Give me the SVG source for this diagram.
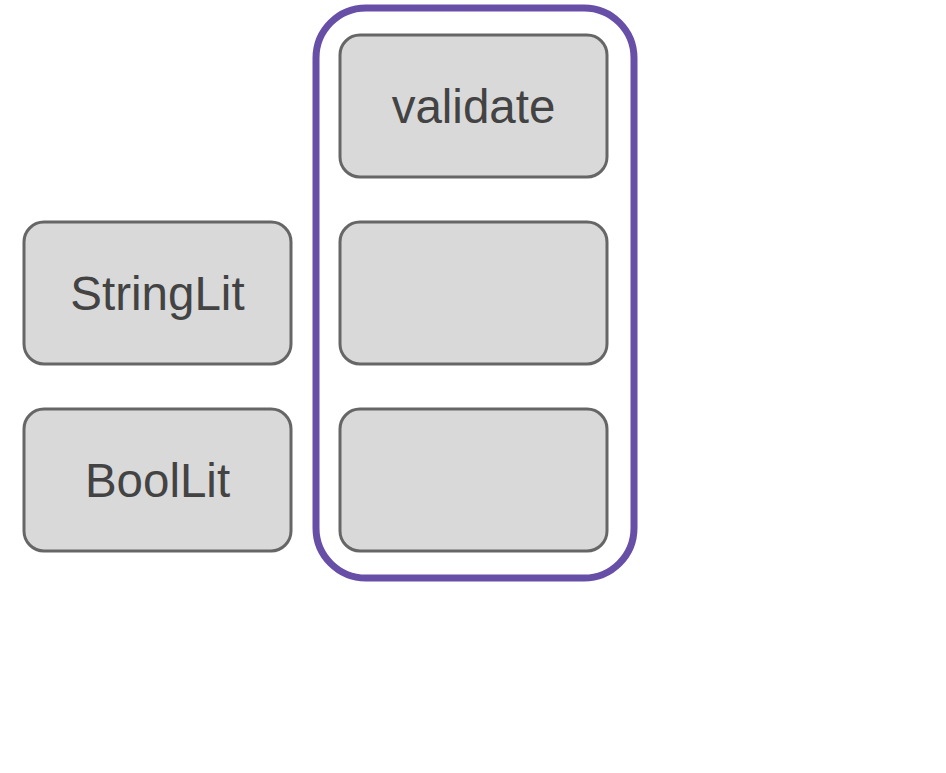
<svg xmlns="http://www.w3.org/2000/svg" width="946" height="773" viewBox="0 0 946 773">
<style>
.box{fill:#d9d9d9;stroke:#666666;stroke-width:3}
.grp{fill:none;stroke:#674ea7;stroke-width:7}
.lbl{font-family:"Liberation Sans",Arial,sans-serif;font-size:47.5px;fill:#434343;text-anchor:middle}
</style>
<rect width="946" height="773" fill="#ffffff"/>
<g id="group">
<rect class="grp" x="316" y="8" width="318" height="570" rx="50" ry="50"/>
</g>
<g id="validate">
<rect class="box" x="340" y="35" width="267" height="142" rx="20" ry="20"/>
<text class="lbl" x="473.5" y="123">validate</text>
</g>
<g id="slot2">
<rect class="box" x="340" y="222" width="267" height="142" rx="20" ry="20"/>
</g>
<g id="slot3">
<rect class="box" x="340" y="409" width="267" height="142" rx="20" ry="20"/>
</g>
<g id="StringLit">
<rect class="box" x="24" y="222" width="267" height="142" rx="20" ry="20"/>
<text class="lbl" x="157.5" y="310">StringLit</text>
</g>
<g id="BoolLit">
<rect class="box" x="24" y="409" width="267" height="142" rx="20" ry="20"/>
<text class="lbl" x="157.5" y="497">BoolLit</text>
</g>
<g id="connectors"></g>
</svg>
